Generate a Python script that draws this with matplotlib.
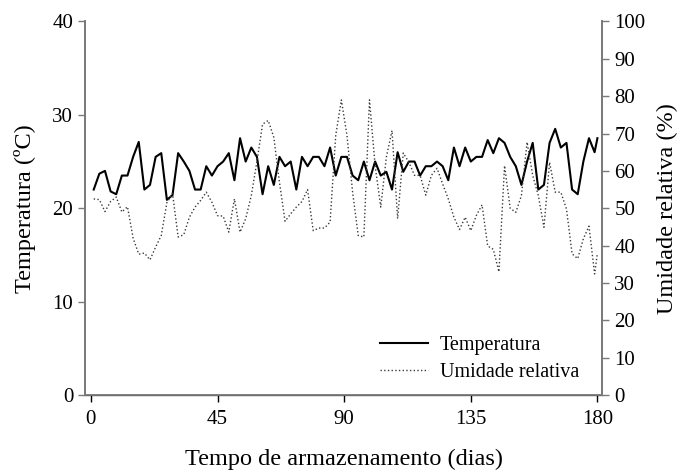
import matplotlib
matplotlib.use("Agg")
import matplotlib.pyplot as plt

# leituras a cada 2 dias (dia 1 ao 179) e a ultima no dia 180
dias = list(range(1, 180, 2)) + [180]

temperatura = [
    22.0, 23.7, 24.0, 21.8, 21.5, 23.5, 23.5, 25.5, 27.1, 22.0,
    22.5, 25.5, 25.9, 20.9, 21.4, 25.9, 25.0, 24.0, 22.0, 22.0,
    24.5, 23.5, 24.5, 25.0, 25.9, 23.0, 27.5, 25.0, 26.5, 25.5,
    21.5, 24.5, 22.5, 25.5, 24.5, 25.0, 22.0, 25.5, 24.5, 25.5,
    25.5, 24.5, 26.5, 23.5, 25.5, 25.5, 23.5, 23.0, 25.0, 23.0,
    25.0, 23.5, 23.9, 22.0, 26.0, 23.9, 25.0, 25.0, 23.5, 24.5,
    24.5, 25.0, 24.5, 23.0, 26.5, 24.5, 26.5, 25.0, 25.5, 25.5,
    27.3, 25.9, 27.5, 27.0, 25.5, 24.5, 22.5, 25.0, 27.0, 22.0,
    22.5, 27.0, 28.5, 26.5, 27.0, 22.0, 21.5, 25.0, 27.5, 26.0,
    27.5,
]

umidade = [
    52.5, 52.3, 49.1, 51.8, 53.0, 49.0, 50.4, 42.0, 37.7, 38.0,
    36.2, 39.6, 42.7, 51.5, 54.0, 42.3, 42.9, 47.6, 50.3, 52.1,
    54.3, 51.6, 48.0, 47.9, 43.6, 52.5, 43.6, 47.2, 53.4, 62.5,
    72.5, 73.5, 69.0, 57.0, 46.5, 48.5, 50.3, 51.8, 55.0, 44.0,
    44.7, 44.7, 46.3, 69.5, 79.0, 69.5, 54.3, 42.7, 42.3, 79.0,
    61.4, 50.3, 63.7, 70.8, 47.2, 64.8, 62.3, 58.8, 58.8, 53.5,
    58.8, 60.7, 56.5, 52.5, 47.6, 44.3, 47.6, 44.0, 48.1, 50.9,
    39.9, 39.0, 33.0, 61.4, 50.0, 48.9, 53.4, 67.7, 58.8, 53.4,
    44.9, 62.3, 54.3, 54.3, 49.8, 37.8, 36.5, 41.8, 45.2, 32.4,
    38.0,
]

plt.rcParams["font.family"] = ["Liberation Serif", "DejaVu Serif"]

fig = plt.figure(figsize=(6.8, 4.7), dpi=100)
ax = fig.add_axes([0.125, 0.1596, 0.761, 0.7947])
ax2 = ax.twinx()

l1, = ax.plot(dias, temperatura, color="black", lw=1.5, label="Temperatura")
l2, = ax2.plot(dias, umidade, color="#3a3a3a", lw=1.0, ls=":",
               label="Umidade relativa")

ax.set_xlim(-2.1, 181.8)
ax.set_ylim(0, 40)
ax2.set_ylim(0, 100)
ax.set_xticks([0, 45, 90, 135, 180])
ax.set_yticks([0, 10, 20, 30, 40])
ax2.set_yticks(range(0, 101, 10))

spine_col = "#7a7a7a"
for a in (ax, ax2):
    a.spines["top"].set_visible(False)
    for s in ("left", "right", "bottom"):
        a.spines[s].set_color(spine_col)
        a.spines[s].set_linewidth(1.3)
    a.tick_params(direction="out", length=5, width=1.0, color=spine_col,
                  labelsize=15, pad=3.5)
ax.spines["bottom"].set_color("black")
ax.spines["bottom"].set_linewidth(0.9)
ax.tick_params(axis="x", color="black", pad=6)

ax.set_xlabel("Tempo de armazenamento (dias)", fontsize=17.5, labelpad=14)
ax.set_ylabel("Temperatura (ºC)", fontsize=17.5, labelpad=12)
ax2.set_ylabel("Umidade relativa (%)", fontsize=17.5, labelpad=8)

ax.legend(handles=[l1, l2], loc="lower right", bbox_to_anchor=(0.99, -0.015),
          frameon=False, fontsize=14.5, handlelength=2.4, handletextpad=0.6,
          labelspacing=0.4)

fig.savefig("out.png", dpi=100)
